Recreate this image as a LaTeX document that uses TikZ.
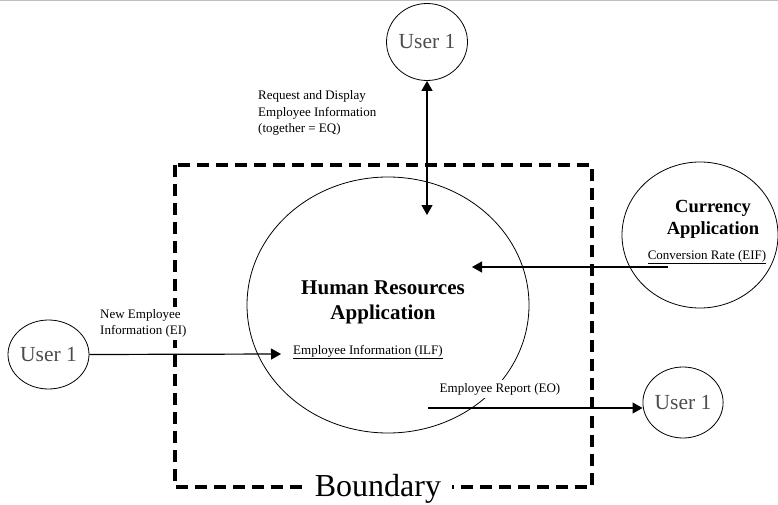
\documentclass[tikz,border=0pt]{standalone}
\usepackage{fontspec}
\setmainfont{Liberation Serif}
\usetikzlibrary{shapes.geometric,arrows.meta,positioning}

\tikzstyle{user} = [draw, ellipse, line width=0.8pt, minimum width=81pt, minimum height=77pt, inner sep=0pt, text=black!70, font=\fontsize{21.5}{24}\selectfont]
\tikzstyle{app} = [draw, ellipse, line width=0.8pt, inner sep=0pt]
\tikzstyle{flow} = [font=\fontsize{13}{16.7}\selectfont, align=left, inner sep=2pt]
\tikzstyle{title} = [font=\fontsize{21}{25}\selectfont\bfseries, align=center]
\tikzstyle{input} = [coordinate]

\begin{document}
\begin{tikzpicture}[x=1pt,y=-1pt,>={Triangle[length=10pt,width=11pt]}]
\useasboundingbox (0,0) rectangle (778,505);
\draw[black!25, line width=1pt] (0,0.5) -- (778,0.5);

% boundary
\draw[line width=4pt, dash pattern=on 12pt off 7pt] (175,165) rectangle (592,487);

% applications
\node[app, minimum width=282pt, minimum height=256pt] (hr) at (388,305) {};
\node[app, minimum width=156pt, minimum height=146pt] (cur) at (700,235) {};
\node[title] (hrname) at (383,302) {Human Resources\\Application};
\node[title, font=\fontsize{18.5}{22}\selectfont\bfseries] (curname) at (713,219) {Currency\\Application};
\node[flow, anchor=west] (ilf) at (291,352) {\underline{Employee Information (ILF)}};
\node[flow] (eif) at (707,257) {\underline{Conversion Rate (EIF)}};

% users
\node[user] (usrT) at (427,42) {User 1};
\node[user, minimum height=69pt] (usrL) at (48.5,354.5) {User 1};
\node[user, minimum width=78pt, minimum height=71pt] (usrR) at (683,402.5) {User 1};

% flow labels
\node[flow, anchor=west] (eq) at (256,113) {Request and Display\\Employee Information\\(together = EQ)};
\node[flow, anchor=west, fill=white] (ei) at (98,323.5) {New Employee\\Information (EI)};
\node[flow, fill=white, inner sep=3pt] (eo) at (500,389) {Employee Report (EO)};
\node[fill=white, inner xsep=11pt, inner ysep=2pt, font=\fontsize{32}{36}\selectfont] (bnd) at (378,489) {Boundary};

% free ends
\node[input] (eqEnd) at (427,215) {};
\node[input] (eifStart) at (668,267) {};
\node[input] (eifEnd) at (472,267) {};
\node[input] (eiEnd) at (281,354) {};
\node[input] (eoStart) at (428,408) {};

\draw[<->, line width=1.2pt] (usrT.south) -- (eqEnd);
\draw[->, line width=1.2pt] (eifStart) -- (eifEnd);
\draw[->, line width=1.2pt] (usrL.east) -- (eiEnd);
\draw[->, line width=1.2pt] (eoStart) -- (eoStart -| usrR.west);

\end{tikzpicture}
\end{document}
